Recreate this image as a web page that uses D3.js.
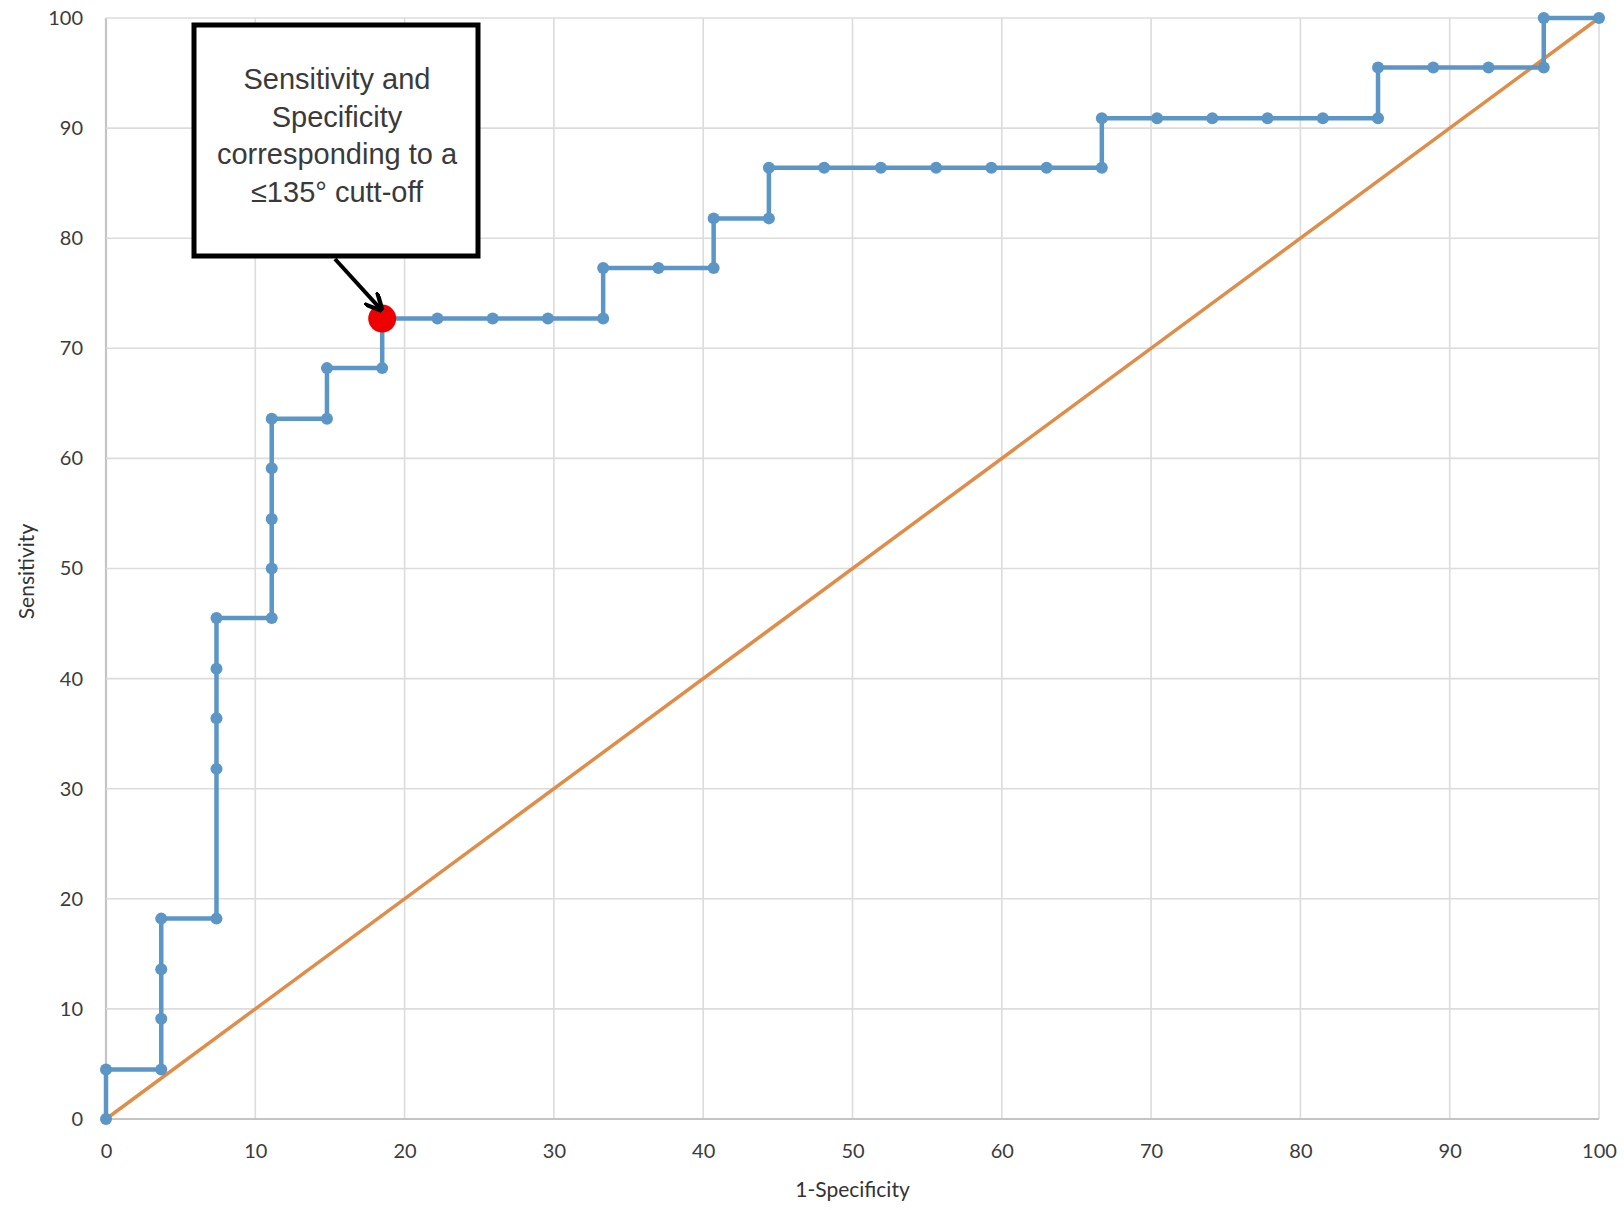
<!DOCTYPE html>
<html><head><meta charset="utf-8">
<script src="https://cdnjs.cloudflare.com/ajax/libs/d3/7.8.5/d3.min.js"></script>
<style>body{margin:0;background:#fff}svg{display:block}</style>
</head><body>
<svg id="c" width="1624" height="1210"></svg>
<script>
// ROC curve points (1-Specificity %, Sensitivity %)
const fpr = [0,0,3.7,3.7,3.7,3.7,7.4,7.4,7.4,7.4,7.4,11.1,11.1,11.1,11.1,11.1,14.8,14.8,18.5,18.5,22.2,25.9,29.6,33.3,33.3,37.0,40.7,40.7,44.4,44.4,48.1,51.9,55.6,59.3,63.0,66.7,66.7,70.4,74.1,77.8,81.5,85.2,85.2,88.9,92.6,96.3,96.3,100];
const tpr = [0,4.5,4.5,9.1,13.6,18.2,18.2,31.8,36.4,40.9,45.5,45.5,50,54.5,59.1,63.6,63.6,68.2,68.2,72.7,72.7,72.7,72.7,72.7,77.3,77.3,77.3,81.8,81.8,86.4,86.4,86.4,86.4,86.4,86.4,86.4,90.9,90.9,90.9,90.9,90.9,90.9,95.5,95.5,95.5,95.5,100,100];
const refLine = [[0,0],[100,100]];
const highlight = [18.5, 72.7];
const ticks = [0,10,20,30,40,50,60,70,80,90,100];
const annotationLines = ["Sensitivity and","Specificity","corresponding to a","\u2264135\u00b0 cutt-off"];
const xTitle = "1-Specificity", yTitle = "Sensitivity";

const svg = d3.select("#c");
const L=106, R=1599, T=18, B=1119;
const x = d3.scaleLinear().domain([0,100]).range([L,R]);
const y = d3.scaleLinear().domain([0,100]).range([B,T]);
const tickFont = "Lato, 'Open Sans', sans-serif";

// grid
const g = svg.append("g");
g.selectAll(".vx").data(ticks).enter().append("line")
 .attr("x1",d=>x(d)).attr("x2",d=>x(d)).attr("y1",T).attr("y2",B)
 .attr("stroke",d=>d===0?"#c4c4c4":"#dcdcdc").attr("stroke-width",d=>d===0?2.2:1.6);
g.selectAll(".hy").data(ticks).enter().append("line")
 .attr("y1",d=>y(d)).attr("y2",d=>y(d)).attr("x1",L).attr("x2",R)
 .attr("stroke",d=>d===0?"#c4c4c4":"#dcdcdc").attr("stroke-width",d=>d===0?2.2:1.6);

// axes labels via d3 axes
const xa = svg.append("g").attr("transform",`translate(0,${B})`)
 .call(d3.axisBottom(x).tickValues(ticks).tickSize(0).tickPadding(25));
const ya = svg.append("g").attr("transform",`translate(${L},0)`)
 .call(d3.axisLeft(y).tickValues(ticks).tickSize(0).tickPadding(23));
[xa,ya].forEach(a=>{a.select(".domain").remove();
 a.selectAll("text").attr("font-family",tickFont).attr("font-size",20).attr("fill","#3c3c3c");});

svg.append("text").attr("x",x(50)).attr("y",1197).attr("text-anchor","middle")
 .attr("font-family",tickFont).attr("font-size",21).attr("fill","#333").text(xTitle);
svg.append("text").attr("transform",`translate(34,${y(50)+3}) rotate(-90)`).attr("text-anchor","middle")
 .attr("font-family",tickFont).attr("font-size",21).attr("fill","#333").text(yTitle);

// diagonal
svg.append("path").datum(refLine)
 .attr("d",d3.line().x(d=>x(d[0])).y(d=>y(d[1])))
 .attr("stroke","#df8d48").attr("stroke-width",3.5).attr("fill","none");

// ROC
const pts = fpr.map((v,i)=>[v,tpr[i]]);
svg.append("path").datum(pts)
 .attr("d",d3.line().x(d=>x(d[0])).y(d=>y(d[1])))
 .attr("stroke","#5b96c6").attr("stroke-width",4.5).attr("fill","none");
svg.selectAll(".pt").data(pts).enter().append("circle")
 .attr("cx",d=>x(d[0])).attr("cy",d=>y(d[1])).attr("r",6).attr("fill","#5b96c6");

// highlight
svg.append("circle").attr("cx",x(highlight[0])).attr("cy",y(highlight[1])).attr("r",14).attr("fill","#ee0000");

// annotation box
svg.append("rect").attr("x",194).attr("y",25).attr("width",284).attr("height",231)
 .attr("fill","#fff").attr("stroke","#000").attr("stroke-width",5);
svg.append("text").attr("font-family","'Liberation Sans', Arial, sans-serif").attr("font-size",29)
 .attr("fill","#3a3a3a").attr("text-anchor","middle")
 .selectAll("tspan").data(annotationLines).enter().append("tspan")
 .attr("x",337).attr("y",(d,i)=>89+i*37.7).text(d=>d);

// arrow
svg.append("defs").append("marker").attr("id","ah").attr("viewBox","0 0 10 10")
 .attr("refX",8).attr("refY",5).attr("markerWidth",4.5).attr("markerHeight",4.5).attr("orient","auto")
 .append("path").attr("d","M0,0 L10,5 L0,10").attr("fill","none").attr("stroke","#000").attr("stroke-width",2.4);
svg.append("line").attr("x1",335).attr("y1",259).attr("x2",x(highlight[0])-2).attr("y2",y(highlight[1])-10)
 .attr("stroke","#000").attr("stroke-width",4).attr("marker-end","url(#ah)");
</script>
</body></html>
